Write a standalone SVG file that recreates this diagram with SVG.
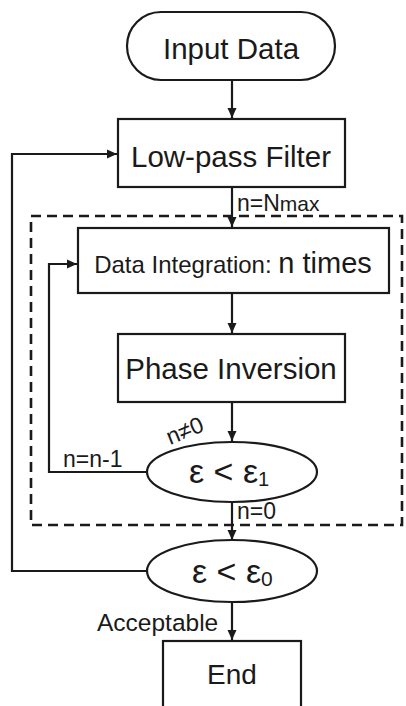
<svg xmlns="http://www.w3.org/2000/svg" width="406" height="706" viewBox="0 0 406 706">
<defs>
<marker id="arr" markerWidth="12" markerHeight="12" refX="10" refY="5.5" orient="auto" markerUnits="userSpaceOnUse">
<path d="M0,1 L10,5.5 L0,10 Z" fill="#1a1a1a"/>
</marker>
<style>
.box{fill:#fff;stroke:#1a1a1a;stroke-width:2.2}
.ln{fill:none;stroke:#1a1a1a;stroke-width:2.2}
.t{font-family:"Liberation Sans",Arial,sans-serif;fill:#1a1a1a}
.big{font-size:29.5px}
.lbl{font-size:23px}
.eps{font-size:34px}
</style>
</defs>
<rect width="406" height="706" fill="#fff"/>
<g id="loop-region">
<rect x="31" y="216" width="371" height="309" fill="none" stroke="#1a1a1a" stroke-width="2.6" stroke-dasharray="10,6"/>
</g>
<g id="connectors">
<path class="ln" d="M232,80 V118" marker-end="url(#arr)"/>
<path class="ln" d="M232,187 V227" marker-end="url(#arr)"/>
<path class="ln" d="M232,293 V333" marker-end="url(#arr)"/>
<path class="ln" d="M232,402 V441" marker-end="url(#arr)"/>
<path class="ln" d="M147,472 H49 V264 H77" marker-end="url(#arr)"/>
<path class="ln" d="M232,502 V540" marker-end="url(#arr)"/>
<path class="ln" d="M147,571 H12 V154 H117" marker-end="url(#arr)"/>
<path class="ln" d="M232,602 V640" marker-end="url(#arr)"/>
<text class="t lbl" x="237" y="211">n=N<tspan font-size="21px">max</tspan></text>
<text class="t lbl" x="170" y="445" transform="rotate(-22 170 445)">n≠0</text>
<text class="t lbl" x="63" y="467">n=n-1</text>
<text class="t lbl" x="237" y="519">n=0</text>
<text class="t" font-size="24.5px" x="97" y="631">Acceptable</text>
</g>
<g id="input-data">
<rect class="box" x="127" y="12" width="208" height="68" rx="34" ry="34"/>
<text class="t big" x="231" y="59" text-anchor="middle">Input Data</text>
</g>
<g id="low-pass-filter">
<rect class="box" x="118" y="119" width="227" height="68"/>
<text class="t big" x="231" y="167" text-anchor="middle">Low-pass Filter</text>
</g>
<g id="data-integration">
<rect class="box" x="78" y="228" width="311" height="65"/>
<text class="t" x="233" y="273" text-anchor="middle"><tspan font-size="24px">Data Integration: </tspan><tspan font-size="29px">n times</tspan></text>
</g>
<g id="phase-inversion">
<rect class="box" x="118" y="334" width="227" height="68"/>
<text class="t big" x="231" y="379" text-anchor="middle">Phase Inversion</text>
</g>
<g id="check-eps1">
<ellipse class="box" cx="232" cy="472" rx="85" ry="30"/>
<text class="t eps" x="189" y="483">ε &lt; ε<tspan font-size="20px" dy="3">1</tspan></text>
</g>
<g id="check-eps0">
<ellipse class="box" cx="232" cy="571" rx="85" ry="31"/>
<text class="t eps" x="192" y="583">ε &lt; ε<tspan font-size="21px" dy="3">0</tspan></text>
</g>
<g id="end">
<rect class="box" x="163" y="641" width="138" height="70"/>
<text class="t" font-size="28px" x="232" y="684" text-anchor="middle">End</text>
</g>
</svg>
